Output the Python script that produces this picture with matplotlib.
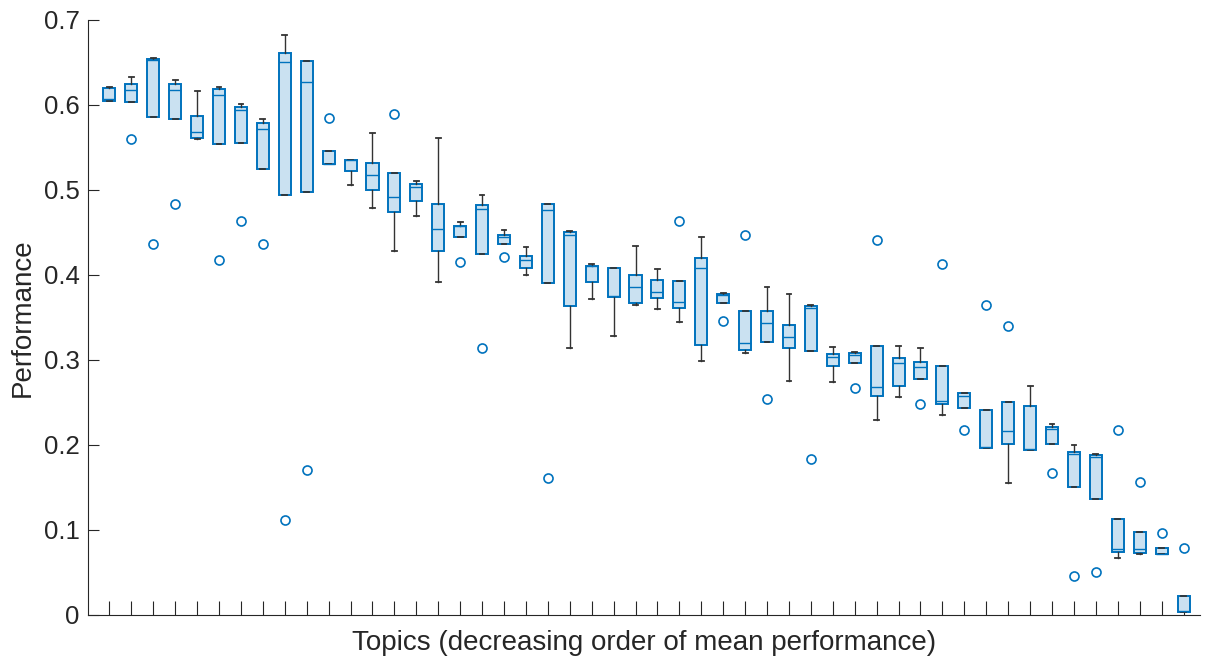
#!/usr/bin/env python
"""
Box plot of performance per topic (topics sorted by mean performance)
"""
import matplotlib
matplotlib.use('Agg')
import matplotlib.pyplot as plt

plt.rcParams['font.family'] = ['Liberation Sans', 'DejaVu Sans']

# per-topic box statistics
q1 = [0.605, 0.6035, 0.586, 0.583, 0.5616, 0.554, 0.5557, 0.5247, 0.494, 0.498,
      0.531, 0.5227, 0.500, 0.474, 0.4867, 0.428, 0.445, 0.425, 0.4365, 0.408,
      0.390, 0.363, 0.392, 0.374, 0.367, 0.373, 0.361, 0.317, 0.367, 0.312,
      0.321, 0.3135, 0.310, 0.293, 0.296, 0.258, 0.269, 0.278, 0.248, 0.244,
      0.197, 0.201, 0.194, 0.201, 0.150, 0.1365, 0.074, 0.073, 0.0714, 0.004]
med = [0.607, 0.618, 0.653, 0.618, 0.5686, 0.612, 0.594, 0.5714, 0.651, 0.627,
       0.531, 0.535, 0.518, 0.492, 0.503, 0.454, 0.457, 0.477, 0.445, 0.4176,
       0.476, 0.447, 0.410, 0.375, 0.386, 0.380, 0.368, 0.408, 0.376, 0.320,
       0.3435, 0.3265, 0.361, 0.304, 0.306, 0.268, 0.296, 0.292, 0.252, 0.257,
       0.198, 0.216, 0.195, 0.219, 0.189, 0.1855, 0.0776, 0.0773, 0.072, 0.005]
q3 = [0.620, 0.6243, 0.6545, 0.625, 0.5875, 0.619, 0.597, 0.579, 0.6616, 0.652,
      0.546, 0.535, 0.532, 0.520, 0.5067, 0.484, 0.458, 0.482, 0.447, 0.422,
      0.484, 0.450, 0.411, 0.4086, 0.400, 0.3945, 0.393, 0.420, 0.377, 0.358,
      0.3576, 0.341, 0.363, 0.3075, 0.3086, 0.3165, 0.3027, 0.298, 0.2933, 0.2612,
      0.241, 0.251, 0.2455, 0.2216, 0.1914, 0.188, 0.1133, 0.0973, 0.0784, 0.0227]
whislo = [0.605, 0.6035, 0.586, 0.583, 0.5596, 0.554, 0.5557, 0.5247, 0.494, 0.498,
          0.531, 0.5059, 0.4788, 0.4282, 0.4698, 0.3918, 0.445, 0.425, 0.4365, 0.4004,
          0.390, 0.3141, 0.3718, 0.3286, 0.3647, 0.360, 0.3451, 0.2992, 0.367, 0.3082,
          0.321, 0.2753, 0.310, 0.2745, 0.296, 0.2298, 0.2565, 0.278, 0.2357, 0.244,
          0.197, 0.1553, 0.194, 0.201, 0.150, 0.1365, 0.0675, 0.0714, 0.0714, 0.004]
whishi = [0.621, 0.6326, 0.6557, 0.6294, 0.6165, 0.6212, 0.6016, 0.5835, 0.6824, 0.652,
          0.546, 0.535, 0.567, 0.520, 0.511, 0.5616, 0.462, 0.4941, 0.4533, 0.4325,
          0.484, 0.4512, 0.4133, 0.4086, 0.4337, 0.4071, 0.393, 0.4451, 0.3792, 0.358,
          0.3863, 0.3773, 0.3647, 0.3157, 0.3098, 0.3165, 0.3165, 0.3141, 0.2933, 0.2612,
          0.241, 0.251, 0.2698, 0.2247, 0.2004, 0.1898, 0.1133, 0.0973, 0.0784, 0.0227]
outliers = [[], [0.56], [0.436], [0.483], [], [0.417], [0.4635], [0.436], [0.112], [0.171],
            [0.585], [], [], [0.589], [], [], [0.415], [0.3145], [0.421], [],
            [0.161], [], [], [], [], [], [0.464], [], [0.346], [0.447],
            [0.254], [], [0.184], [], [0.2675], [0.4416], [], [0.248], [0.4125], [0.2176],
            [0.3643], [0.3404], [], [0.167], [0.046], [0.051], [0.218], [0.156], [0.0965], [0.079]]

blue = '#0072BD'
fill = '#cae1f1'

stats = []
for i in range(len(med)):
    stats.append(dict(q1=q1[i], med=med[i], q3=q3[i],
                      whislo=whislo[i], whishi=whishi[i], fliers=outliers[i]))

fig = plt.figure(figsize=(12.08, 6.62), dpi=100)
ax = fig.add_axes([0.0728, 0.071, 0.9202, 0.899])

ax.bxp(stats, positions=range(1, len(med) + 1), widths=0.55, patch_artist=True,
       boxprops=dict(facecolor=fill, edgecolor=blue, linewidth=1.4),
       medianprops=dict(color=blue, linewidth=1.0),
       whiskerprops=dict(color='#333333', linewidth=1.0),
       capprops=dict(color='#333333', linewidth=1.3),
       flierprops=dict(marker='o', markerfacecolor='none', markeredgecolor=blue,
                       markersize=6.5, markeredgewidth=1.2),
       capwidths=0.22)

ax.spines['top'].set_visible(False)
ax.spines['right'].set_visible(False)
for s in ['left', 'bottom']:
    ax.spines[s].set_color('#262626')

ax.set_xlim(0.02, 50.73)
ax.set_ylim(0, 0.7)
ax.set_yticks([0, 0.1, 0.2, 0.3, 0.4, 0.5, 0.6, 0.7])
ax.set_yticklabels(['0', '0.1', '0.2', '0.3', '0.4', '0.5', '0.6', '0.7'])
ax.set_xticks(range(1, len(med) + 1))
ax.set_xticklabels([])
ax.tick_params(axis='both', direction='in', colors='#262626', labelsize=18.5)
ax.tick_params(axis='x', length=10, width=0.8)
ax.tick_params(axis='y', length=8, width=0.8, pad=6)

ax.set_xlabel('Topics (decreasing order of mean performance)', fontsize=20, labelpad=7, color='#262626')
ax.set_ylabel('Performance', fontsize=20, labelpad=6, color='#262626')

plt.savefig('out.png', dpi=100)
